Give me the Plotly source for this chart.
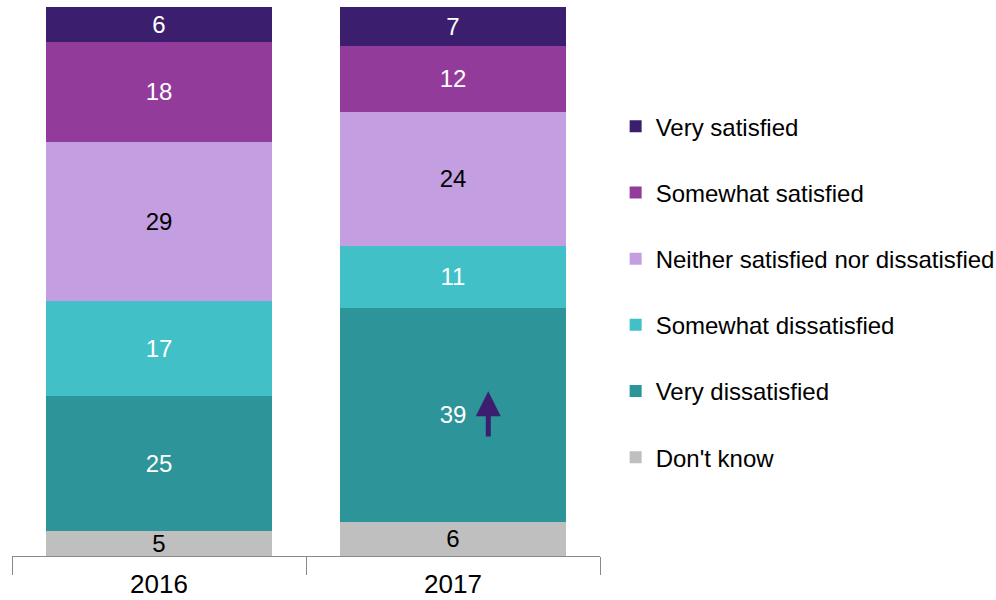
import plotly.graph_objects as go

years = ["2016", "2017"]
categories = ["Don't know", "Very dissatisfied", "Somewhat dissatisfied",
              "Neither satisfied nor dissatisfied", "Somewhat satisfied", "Very satisfied"]
dont_know = [4.6, 6.2]
very_dissatisfied = [24.6, 39.0]
somewhat_dissatisfied = [17.3, 11.3]
neither = [29.0, 24.4]
somewhat_satisfied = [18.2, 12.0]
very_satisfied = [6.3, 7.1]

series = [dont_know, very_dissatisfied, somewhat_dissatisfied, neither,
          somewhat_satisfied, very_satisfied]
colors = ["#BFBFBF", "#2D9499", "#42C0C8", "#C39FE2", "#933B9A", "#3B1F6E"]
text_colors = ["#000000", "#FFFFFF", "#FFFFFF", "#000000", "#FFFFFF", "#FFFFFF"]

FONT = "Liberation Sans, Arial, sans-serif"

fig = go.Figure()
n = len(categories)
for i, (name, vals) in enumerate(zip(categories, series)):
    fig.add_trace(go.Bar(
        x=years, y=vals, name=name,
        marker=dict(color=colors[i], line=dict(width=0)),
        texttemplate="%{y:.0f}", textposition="inside",
        insidetextanchor="middle", constraintext="none",
        textangle=0,
        textfont=dict(color=text_colors[i], size=24, family=FONT),
        legendgroup=name, legendrank=n - i,
        hoverinfo="skip",
    ))

# increase arrow on 2017 "Very dissatisfied"
fig.add_annotation(
    x=1.12, y=30.0, xref="x", yref="y",
    ax=1.12, ay=21.5, axref="x", ayref="y",
    showarrow=True, arrowhead=2, arrowsize=1.0, arrowwidth=5,
    arrowcolor="#3B1F6E", text="",
)

fig.update_layout(
    width=996, height=600,
    margin=dict(l=12, r=396, t=7, b=44, autoexpand=False),
    barmode="stack", bargap=0.231,
    plot_bgcolor="white", paper_bgcolor="white",
    font=dict(family=FONT, size=24, color="#000000"),
    uniformtext=dict(minsize=24, mode="show"),
    showlegend=True,
    legend=dict(
        x=1.0266, xanchor="left", y=0.823, yanchor="top",
        traceorder="grouped", tracegroupgap=32,
        font=dict(size=24, family=FONT, color="#000000"),
        bgcolor="rgba(0,0,0,0)", itemclick=False,
    ),
    xaxis=dict(
        showline=True, linecolor="#898989", linewidth=1,
        ticks="outside", tickson="boundaries", ticklen=18,
        tickcolor="#898989", tickwidth=1,
        ticklabelstandoff=5,
        tickfont=dict(size=26, family=FONT, color="#000000"),
        showgrid=False, zeroline=False, fixedrange=True,
    ),
    yaxis=dict(
        range=[0, 100], visible=False, showgrid=False, fixedrange=True,
    ),
)

fig.write_html(
    "out.html",
    config={"displayModeBar": False},
    post_script="document.body.style.margin='0';document.body.style.padding='0';",
)
